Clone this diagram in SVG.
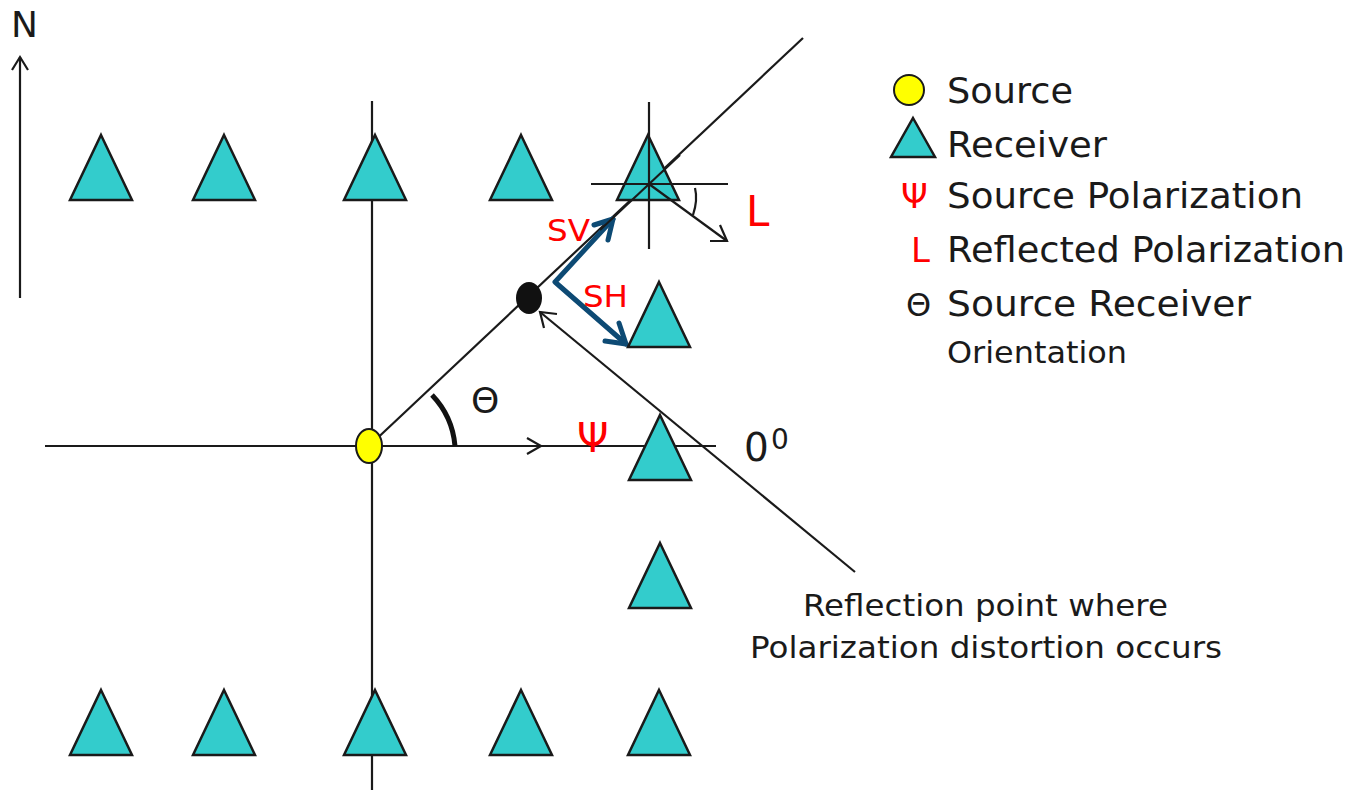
<svg xmlns="http://www.w3.org/2000/svg" width="1365" height="791" viewBox="0 0 1365 791">
<style>
.t{font-family:"DejaVu Sans",Verdana,sans-serif;fill:#1a1a1a}
.r{font-family:"DejaVu Sans",Verdana,sans-serif;fill:#ff0000}
.ln{stroke:#1a1a1a;stroke-width:2.2;fill:none}
.rx{fill:#33cccc;stroke:#1a1a1a;stroke-width:2.5;stroke-linejoin:miter}
.nv{stroke:#0d4a74;stroke-width:5;fill:none;stroke-linecap:round;stroke-linejoin:round}
</style>
<defs>
<path id="tri" class="rx" d="M0,-33 L31,32 L-31,32 Z"/>
</defs>
<rect width="1365" height="791" fill="#fff"/>
<g id="connectors">
<line class="ln" x1="45" y1="446" x2="716" y2="446"/>
<line class="ln" x1="372" y1="101" x2="372" y2="790"/>
<line class="ln" x1="369" y1="446" x2="803" y2="38"/>
<polyline class="ln" points="527,438 541,446 527,454"/>
<line class="ln" x1="855" y1="572" x2="540" y2="312"/>
<polyline class="ln" points="557,314 540,312 544,328"/>
<line class="ln" x1="20" y1="298" x2="20" y2="57"/>
<polyline class="ln" points="12,70 20,57 28,70"/>
<path d="M432,395 A84,84 0 0 1 455,446" stroke="#111" stroke-width="5" fill="none"/>
<polyline class="nv" points="613,219 555,282 626,344"/>
<polyline class="nv" points="594,225 613,219 608,240"/>
<polyline class="nv" points="605,341 626,344 619,323"/>
</g>
<g id="receivers">
<use href="#tri" x="101" y="168"/>
<use href="#tri" x="224" y="168"/>
<use href="#tri" x="375" y="168"/>
<use href="#tri" x="521" y="168"/>
<use href="#tri" x="648" y="168"/>
<use href="#tri" x="659" y="315"/>
<use href="#tri" x="660" y="448"/>
<use href="#tri" x="660" y="576"/>
<use href="#tri" x="101" y="723"/>
<use href="#tri" x="224" y="723"/>
<use href="#tri" x="375" y="723"/>
<use href="#tri" x="521" y="723"/>
<use href="#tri" x="659" y="723"/>
</g>
<g id="crosshair">
<line class="ln" x1="591" y1="184" x2="728" y2="184"/>
<line class="ln" x1="649" y1="102" x2="649" y2="249"/>
<line class="ln" x1="600" y1="230" x2="680" y2="155"/>
<line class="ln" x1="649" y1="184" x2="727" y2="241"/>
<polyline class="ln" points="720,225 727,241 710,241"/>
<path class="ln" d="M695,188 Q698,200 693,215"/>
</g>
<g id="source">
<ellipse cx="369" cy="446" rx="13" ry="17" fill="#ffff00" stroke="#1a1a1a" stroke-width="2"/>
</g>
<g id="reflection-point">
<ellipse cx="529" cy="298" rx="13" ry="16" fill="#111"/>
</g>
<g id="labels">
<text class="t" x="11" y="37" font-size="36">N</text>
<text class="r" x="547" y="241" font-size="31" textLength="43" lengthAdjust="spacingAndGlyphs">SV</text>
<text class="r" x="583" y="307" font-size="31" textLength="45" lengthAdjust="spacingAndGlyphs">SH</text>
<text class="r" x="746" y="226" font-size="42">L</text>
<text class="t" x="471" y="413" font-size="36">Θ</text>
<text class="r" x="577" y="452" font-size="40">Ψ</text>
<text class="t" x="744" y="461" font-size="39">0</text>
<text class="t" x="771" y="449" font-size="28">0</text>
<text class="t" x="803" y="616" font-size="30" textLength="365" lengthAdjust="spacingAndGlyphs">Reflection point where</text>
<text class="t" x="750" y="658" font-size="30" textLength="472" lengthAdjust="spacingAndGlyphs">Polarization distortion occurs</text>
</g>
<g id="legend">
<circle cx="909" cy="90" r="15" fill="#ffff00" stroke="#1a1a1a" stroke-width="2"/>
<path class="rx" d="M913,118 L935,157 L891,157 Z"/>
<text class="t" x="947" y="103" font-size="36" textLength="126" lengthAdjust="spacingAndGlyphs">Source</text>
<text class="t" x="947" y="157" font-size="36" textLength="160" lengthAdjust="spacingAndGlyphs">Receiver</text>
<text class="r" x="901" y="208" font-size="34">Ψ</text>
<text class="t" x="947" y="208" font-size="36" textLength="356" lengthAdjust="spacingAndGlyphs">Source Polarization</text>
<text class="r" x="911" y="262" font-size="34">L</text>
<text class="t" x="947" y="262" font-size="36" textLength="398" lengthAdjust="spacingAndGlyphs">Reflected Polarization</text>
<text class="t" x="906" y="316" font-size="32">Θ</text>
<text class="t" x="947" y="316" font-size="36" textLength="304" lengthAdjust="spacingAndGlyphs">Source Receiver</text>
<text class="t" x="947" y="363" font-size="31" textLength="180" lengthAdjust="spacingAndGlyphs">Orientation</text>
</g>
</svg>
